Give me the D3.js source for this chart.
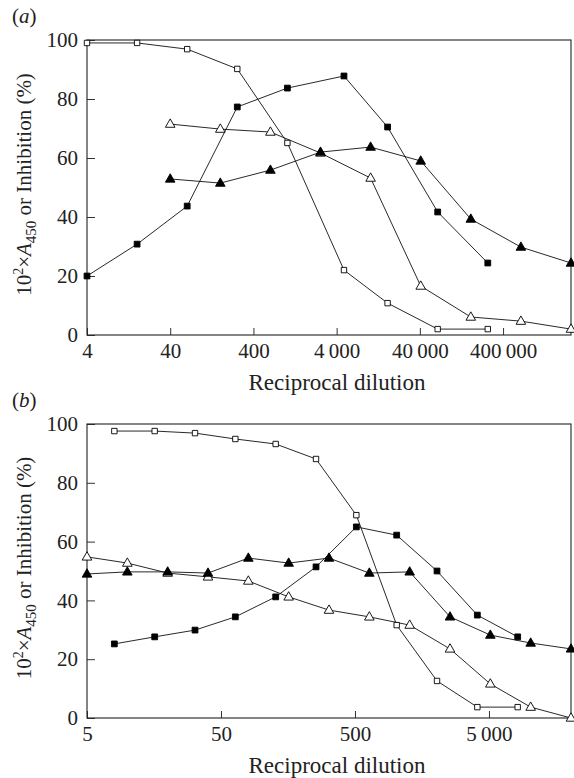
<!DOCTYPE html>
<html>
<head>
<meta charset="utf-8">
<script src="https://cdn.jsdelivr.net/npm/d3@7"></script>
<style>
  body { margin: 0; background: #fff; }
  svg { display: block; }
  text { font-family: 'Liberation Serif', 'Times New Roman', serif; fill: #222; }
  .tick text { font-size: 21px; }
  .tick line { stroke: #333; stroke-width: 1; }
  .series { fill: none; stroke: #111; stroke-width: 0.9; }
</style>
</head>
<body>
<div id="chart"></div>
<script>
// panel (a): reciprocal dilutions (4-fold)
const aSquareDil = [4, 16, 64, 256, 1024, 4900, 16384, 65536, 262144]
const aTriDil = [40, 160, 640, 2560, 10240, 40960, 163840, 655360, 2621440]
const aOpenSquare = [99, 99, 96.9, 90.2, 65.1, 22.0, 10.8, 2.0, 2.0]
const aFilledSquare = [20.0, 30.8, 43.7, 77.3, 83.7, 87.8, 70.5, 41.7, 24.4]
const aOpenTri = [71.5, 69.8, 68.8, 61.7, 53.2, 16.6, 6.1, 4.7, 2.0]
const aFilledTri = [52.9, 51.5, 55.9, 62.0, 63.7, 59.0, 39.3, 29.8, 24.4]
const aTicks = [4, 40, 400, 4000, 40000, 400000]

// panel (b): reciprocal dilutions (2-fold)
const bSquareDil = [8, 16, 32, 64, 128, 256, 512, 1024, 2048, 4096, 8192]
const bTriDil = [5, 10, 20, 40, 80, 160, 320, 640, 1280, 2560, 5120, 10240, 20480]
const bOpenSquare = [97.6, 97.6, 96.9, 94.9, 93.2, 88.1, 69.0, 31.6, 12.6, 3.7, 3.7]
const bFilledSquare = [25.2, 27.6, 29.9, 34.4, 41.2, 51.4, 65.0, 62.2, 50.0, 35.0, 27.6]
const bOpenTri = [54.8, 52.7, 49.3, 48.0, 46.6, 41.2, 36.7, 34.4, 31.6, 23.5, 11.6, 3.7, 0.0]
const bFilledTri = [49.0, 49.7, 49.7, 49.3, 54.4, 52.7, 54.4, 49.3, 49.7, 34.4, 28.2, 25.5, 23.5]
const bTicks = [5, 50, 500, 5000]

const yTicks = [0, 20, 40, 60, 80, 100]

const width = 574
const height = 778
const fmt = d3.formatLocale({ decimal: '.', thousands: '\u2009', grouping: [3], currency: ['', ''] }).format(',')

const svg = d3.select('#chart').append('svg')
  .attr('width', width)
  .attr('height', height)
svg.append('rect').attr('width', width).attr('height', height).attr('fill', '#fff')

const panels = [
  {
    label: 'a', top: 40, bottom: 335, domain: [4, 2621440], ticks: aTicks,
    series: [
      { x: aSquareDil, y: aOpenSquare, shape: 'square', filled: false },
      { x: aSquareDil, y: aFilledSquare, shape: 'square', filled: true },
      { x: aTriDil, y: aOpenTri, shape: 'tri', filled: false },
      { x: aTriDil, y: aFilledTri, shape: 'tri', filled: true }
    ]
  },
  {
    label: 'b', top: 424, bottom: 718, domain: [5, 20480], ticks: bTicks,
    series: [
      { x: bSquareDil, y: bOpenSquare, shape: 'square', filled: false },
      { x: bSquareDil, y: bFilledSquare, shape: 'square', filled: true },
      { x: bTriDil, y: bOpenTri, shape: 'tri', filled: false },
      { x: bTriDil, y: bFilledTri, shape: 'tri', filled: true }
    ]
  }
]

const left = 87
const right = 571

function drawPanel(p) {
  const g = svg.append('g').attr('class', 'panel-' + p.label)
  const x = d3.scaleLog().domain(p.domain).range([left, right])
  const y = d3.scaleLinear().domain([0, 100]).range([p.bottom, p.top])

  // axes, ticks pointing inward
  const xAxis = g.append('g')
    .attr('transform', 'translate(0,' + p.bottom + ')')
    .call(d3.axisBottom(x).tickValues(p.ticks).tickFormat(fmt).tickSize(-7).tickSizeOuter(0).tickPadding(8))
  xAxis.select('.domain').remove()

  const yAxis = g.append('g')
    .attr('transform', 'translate(' + left + ',0)')
    .call(d3.axisLeft(y).tickValues(yTicks).tickSize(-8).tickSizeOuter(0).tickPadding(9))
  yAxis.select('.domain').remove()

  // frame
  g.append('rect')
    .attr('x', left).attr('y', p.top)
    .attr('width', right - left).attr('height', p.bottom - p.top)
    .attr('fill', 'none').attr('stroke', '#222').attr('stroke-width', 1.1)

  const line = d3.line().x(d => x(d[0])).y(d => y(d[1]))

  p.series.forEach(s => {
    const pts = s.x.map((v, i) => [v, s.y[i]])
    g.append('path').attr('class', 'series').attr('d', line(pts))
  })

  p.series.forEach(s => {
    const pts = s.x.map((v, i) => [v, s.y[i]])
    const m = g.append('g').selectAll('path').data(pts).enter().append('path')
      .attr('transform', d => 'translate(' + x(d[0]) + ',' + y(d[1]) + ')')
      .attr('fill', s.filled ? '#000' : '#fff')
      .attr('stroke', '#000')
      .attr('stroke-width', 0.9)
    if (s.shape === 'square') {
      const h = s.filled ? 2.9 : 2.7
      m.attr('d', 'M' + -h + ',' + -h + 'H' + h + 'V' + h + 'H' + -h + 'Z')
    } else {
      m.attr('d', 'M0,-5.2L4.8,3.2L-4.8,3.2Z')
    }
  })

  // titles
  g.append('text')
    .attr('x', 337).attr('y', p.bottom + 55)
    .attr('text-anchor', 'middle')
    .style('font-size', '23px')
    .text('Reciprocal dilution')

  const yt = g.append('text')
    .attr('transform', 'translate(31,' + ((p.top + p.bottom) / 2 - 3) + ') rotate(-90)')
    .attr('text-anchor', 'middle')
    .style('font-size', '21px')
  yt.append('tspan').text('10')
  yt.append('tspan').attr('dy', -8).style('font-size', '14px').text('2')
  yt.append('tspan').attr('dy', 8).text('\u00d7')
  yt.append('tspan').style('font-style', 'italic').text('A')
  yt.append('tspan').attr('dy', 5).style('font-size', '15px').text('450')
  yt.append('tspan').attr('dy', -5).text(' or Inhibition (%)')

  const lab = g.append('text')
    .attr('x', 12).attr('y', p.top - 17)
    .style('font-size', '21px')
  lab.append('tspan').text('(')
  lab.append('tspan').style('font-style', 'italic').text(p.label)
  lab.append('tspan').text(')')
}

panels.forEach(drawPanel)
</script>
</body>
</html>
